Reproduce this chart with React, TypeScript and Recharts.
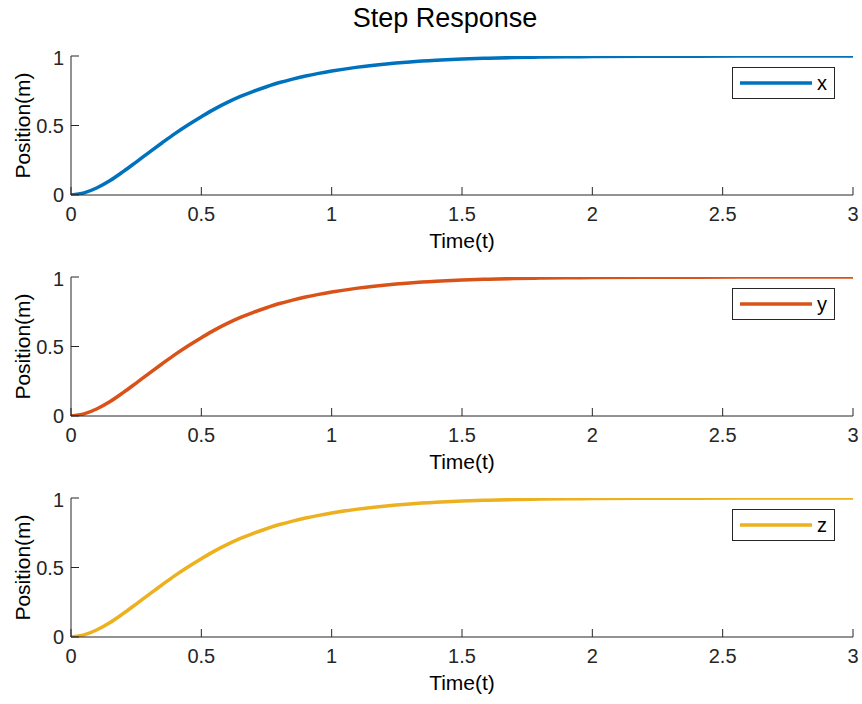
import React from 'react';
import { LineChart, Line, XAxis, YAxis, Legend } from 'recharts';

const timeValues = [0, 0.05, 0.1, 0.15, 0.2, 0.25, 0.3, 0.35, 0.4, 0.45, 0.5, 0.55, 0.6, 0.65, 0.7, 0.75, 0.8, 0.85, 0.9, 0.95, 1.0, 1.1, 1.2, 1.3, 1.4, 1.5, 1.6, 1.7, 1.8, 1.9, 2.0, 2.2, 2.4, 2.7, 3.0];
const xValues = [0, 0.015, 0.052, 0.104, 0.168, 0.237, 0.307, 0.376, 0.443, 0.505, 0.563, 0.618, 0.666, 0.709, 0.746, 0.779, 0.809, 0.834, 0.856, 0.875, 0.892, 0.92, 0.941, 0.957, 0.969, 0.978, 0.984, 0.989, 0.992, 0.9945, 0.996, 0.998, 0.999, 1.0, 1.0];
const yValues = [0, 0.015, 0.052, 0.104, 0.168, 0.237, 0.307, 0.376, 0.443, 0.505, 0.563, 0.618, 0.666, 0.709, 0.746, 0.779, 0.809, 0.834, 0.856, 0.875, 0.892, 0.92, 0.941, 0.957, 0.969, 0.978, 0.984, 0.989, 0.992, 0.9945, 0.996, 0.998, 0.999, 1.0, 1.0];
const zValues = [0, 0.015, 0.052, 0.104, 0.168, 0.237, 0.307, 0.376, 0.443, 0.505, 0.563, 0.618, 0.666, 0.709, 0.746, 0.779, 0.809, 0.834, 0.856, 0.875, 0.892, 0.92, 0.941, 0.957, 0.969, 0.978, 0.984, 0.989, 0.992, 0.9945, 0.996, 0.998, 0.999, 1.0, 1.0];
const xTicks = [0, 0.5, 1, 1.5, 2, 2.5, 3];
const yTicks = [0, 0.5, 1];

const titleText = 'Step Response';
const xLabel = 'Time(t)';
const yLabel = 'Position(m)';

const FONT = '"Liberation Sans", Arial, Helvetica, sans-serif';
const AXIS = '#262626';

const series = [
  { name: 'x', values: xValues, color: '#0072BD' },
  { name: 'y', values: yValues, color: '#D95319' },
  { name: 'z', values: zValues, color: '#EDB120' },
];

const makeData = (values: number[]) => timeValues.map((t, i) => ({ t, v: values[i] }));

const YLabelContent = (props: any) => {
  const vb = props.viewBox || {};
  const cx = (vb.x || 0) + 22;
  const cy = (vb.y || 0) + (vb.height || 0) / 2;
  return (
    <text
      x={cx}
      y={cy}
      transform={`rotate(-90, ${cx}, ${cy})`}
      textAnchor="middle"
      dominantBaseline="central"
      fontSize={21}
      fontFamily={FONT}
      fill="#000"
    >
      {yLabel}
    </text>
  );
};

const LegendBox = ({ name, color }: { name: string; color: string }) => (
  <div
    style={{
      width: 103,
      height: 32,
      boxSizing: 'border-box',
      border: `1px solid ${AXIS}`,
      background: '#fff',
      position: 'relative',
      fontFamily: FONT,
    }}
  >
    <svg width={101} height={30} style={{ position: 'absolute', left: 0, top: 0 }}>
      <line x1={7} x2={79} y1={15} y2={15} stroke={color} strokeWidth={3.5} />
      <text x={84} y={22} fontSize={20} fontFamily={FONT} fill="#000">
        {name}
      </text>
    </svg>
  </div>
);

const SubPlot = ({ name, values, color }: { name: string; values: number[]; color: string }) => {
  const data = makeData(values);
  return (
    <LineChart width={862} height={209} data={data} margin={{ top: 10, right: 9, left: 0, bottom: 0 }}>
      <XAxis
        xAxisId="bottom"
        dataKey="t"
        type="number"
        domain={[0, 3]}
        ticks={xTicks}
        allowDataOverflow
        height={60}
        stroke={AXIS}
        tickSize={-8}
        tickMargin={20}
        tick={{ fontSize: 20, fill: '#262626', fontFamily: FONT }}
        label={{ value: xLabel, position: 'insideBottom', offset: 7, fontSize: 21, fill: '#000', fontFamily: FONT }}
      />
      <XAxis
        xAxisId="top"
        orientation="top"
        dataKey="t"
        type="number"
        domain={[0, 3]}
        ticks={xTicks}
        allowDataOverflow
        height={0}
        stroke={AXIS}
        tickSize={-8}
        tick={{ fontSize: 0, fill: 'none' }}
      />
      <YAxis
        yAxisId="left"
        type="number"
        domain={[0, 1]}
        ticks={yTicks}
        allowDataOverflow
        width={71}
        stroke={AXIS}
        tickSize={-8}
        tickMargin={15}
        tick={{ fontSize: 20, fill: '#262626', fontFamily: FONT }}
        label={<YLabelContent />}
      />
      <YAxis
        yAxisId="right"
        orientation="right"
        type="number"
        domain={[0, 1]}
        ticks={yTicks}
        allowDataOverflow
        width={0}
        stroke={AXIS}
        tickSize={-8}
        tick={{ fontSize: 0, fill: 'none' }}
      />
      <Legend
        layout="vertical"
        align="center"
        verticalAlign="middle"
        wrapperStyle={{ position: 'absolute', top: 21, left: 732, width: 103, height: 32 }}
        content={() => <LegendBox name={name} color={color} />}
      />
      <Line
        xAxisId="bottom"
        yAxisId="left"
        type="monotone"
        dataKey="v"
        name={name}
        stroke={color}
        strokeWidth={3.5}
        dot={false}
        isAnimationActive={false}
      />
    </LineChart>
  );
};

export default function App() {
  return (
    <div style={{ position: 'absolute', left: 0, top: 0, width: 862, height: 704, background: '#fff', fontFamily: FONT }}>
      <svg width={862} height={40} style={{ position: 'absolute', left: 0, top: 0 }}>
        <text x={445} y={27} textAnchor="middle" fontSize={27} fontFamily={FONT} fill="#000">
          {titleText}
        </text>
      </svg>
      {series.map((s, i) => (
        <div key={s.name} style={{ position: 'absolute', left: 0, top: 46 + 221 * i }}>
          <SubPlot name={s.name} values={s.values} color={s.color} />
        </div>
      ))}
    </div>
  );
}
